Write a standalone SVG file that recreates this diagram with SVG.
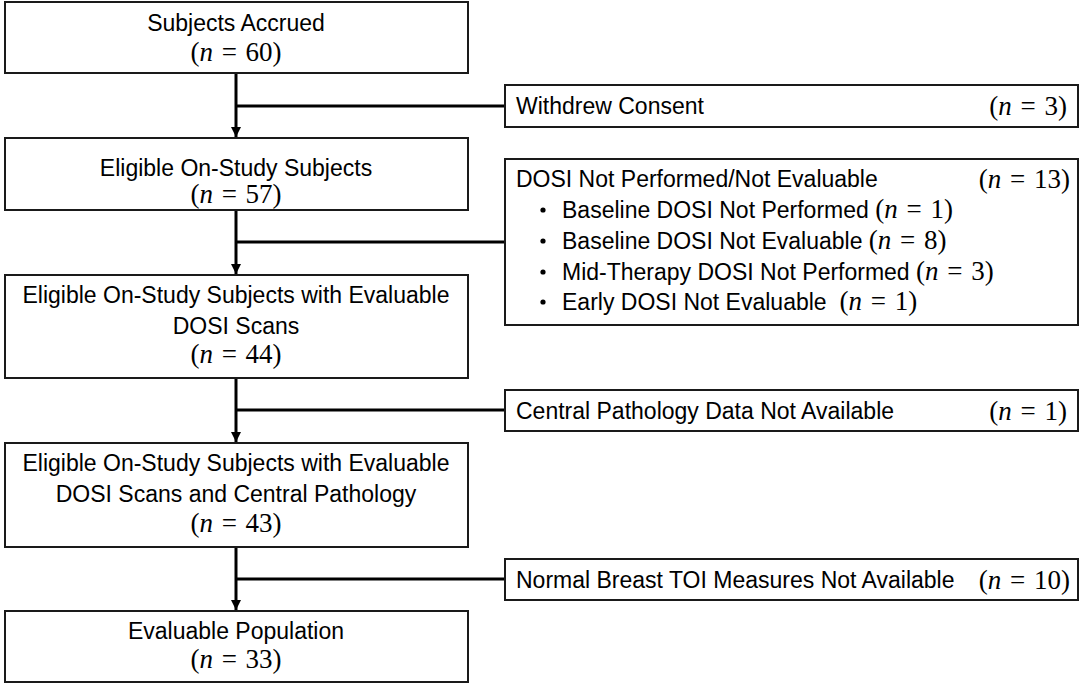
<svg xmlns="http://www.w3.org/2000/svg" width="1084" height="685" viewBox="0 0 1084 685">
<defs>
<style>
.box{fill:#fff;stroke:#1a1a1a;stroke-width:2}
.t{font-family:"Liberation Sans",Arial,sans-serif;font-size:23px;fill:#000}
.c{text-anchor:middle}
.m{font-family:"Liberation Serif","Times New Roman",serif;font-size:27px;word-spacing:2px}
.e{text-anchor:end}
.i{font-style:italic}
.ln{stroke:#000;stroke-width:3;fill:none}
</style>
<marker id="ah" markerWidth="10" markerHeight="10" refX="10" refY="5" orient="auto" markerUnits="userSpaceOnUse">
<path d="M0,0 L10,5 L0,10 Z" fill="#000"/>
</marker>
</defs>
<rect width="1084" height="685" fill="#fff"/>
<g id="connectors">
<line class="ln" x1="236" y1="74" x2="236" y2="137" marker-end="url(#ah)"/>
<line class="ln" x1="236" y1="106" x2="505" y2="106"/>
<line class="ln" x1="236" y1="211" x2="236" y2="274" marker-end="url(#ah)"/>
<line class="ln" x1="236" y1="242" x2="505" y2="242"/>
<line class="ln" x1="236" y1="379" x2="236" y2="442" marker-end="url(#ah)"/>
<line class="ln" x1="236" y1="410" x2="505" y2="410"/>
<line class="ln" x1="236" y1="548" x2="236" y2="610" marker-end="url(#ah)"/>
<line class="ln" x1="236" y1="579" x2="505" y2="579"/>
</g>
<g id="n1">
<rect class="box" x="5" y="2" width="463" height="71"/>
<text class="t c" x="236" y="31">Subjects Accrued</text>
<text class="m c" x="236" y="61">(<tspan class="i">n</tspan> = 60)</text>
</g>
<g id="n2">
<rect class="box" x="5" y="138" width="463" height="72"/>
<text class="t c" x="236" y="176">Eligible On-Study Subjects</text>
<text class="m c" x="236" y="203">(<tspan class="i">n</tspan> = 57)</text>
</g>
<g id="n3">
<rect class="box" x="5" y="275" width="463" height="103"/>
<text class="t c" x="236" y="303">Eligible On-Study Subjects with Evaluable</text>
<text class="t c" x="236" y="334">DOSI Scans</text>
<text class="m c" x="236" y="363">(<tspan class="i">n</tspan> = 44)</text>
</g>
<g id="n4">
<rect class="box" x="5" y="443" width="463" height="104"/>
<text class="t c" x="236" y="471">Eligible On-Study Subjects with Evaluable</text>
<text class="t c" x="236" y="502">DOSI Scans and Central Pathology</text>
<text class="m c" x="236" y="532">(<tspan class="i">n</tspan> = 43)</text>
</g>
<g id="n5">
<rect class="box" x="5" y="611" width="463" height="71"/>
<text class="t c" x="236" y="639">Evaluable Population</text>
<text class="m c" x="236" y="668">(<tspan class="i">n</tspan> = 33)</text>
</g>
<g id="x1">
<rect class="box" x="505" y="85" width="573" height="42"/>
<text class="t" x="516" y="114">Withdrew Consent</text>
<text class="m e" x="1067" y="115">(<tspan class="i">n</tspan> = 3)</text>
</g>
<g id="x2">
<rect class="box" x="505" y="159" width="573" height="166"/>
<text class="t" x="516" y="187">DOSI Not Performed/Not Evaluable</text>
<text class="m e" x="1070" y="188">(<tspan class="i">n</tspan> = 13)</text>
<circle cx="543" cy="210" r="2.6" fill="#000"/>
<text class="t" x="562" y="218">Baseline DOSI Not Performed <tspan class="m">(<tspan class="i">n</tspan> = 1)</tspan></text>
<circle cx="543" cy="241" r="2.6" fill="#000"/>
<text class="t" x="562" y="249">Baseline DOSI Not Evaluable <tspan class="m">(<tspan class="i">n</tspan> = 8)</tspan></text>
<circle cx="543" cy="272" r="2.6" fill="#000"/>
<text class="t" x="562" y="280">Mid-Therapy DOSI Not Performed <tspan class="m">(<tspan class="i">n</tspan> = 3)</tspan></text>
<circle cx="543" cy="302" r="2.6" fill="#000"/>
<text class="t" x="562" y="310" xml:space="preserve">Early DOSI Not Evaluable  <tspan class="m">(<tspan class="i">n</tspan> = 1)</tspan></text>
</g>
<g id="x3">
<rect class="box" x="505" y="390" width="573" height="41"/>
<text class="t" x="516" y="419">Central Pathology Data Not Available</text>
<text class="m e" x="1067" y="420">(<tspan class="i">n</tspan> = 1)</text>
</g>
<g id="x4">
<rect class="box" x="505" y="559" width="573" height="41"/>
<text class="t" x="516" y="588">Normal Breast TOI Measures Not Available</text>
<text class="m e" x="1070" y="589">(<tspan class="i">n</tspan> = 10)</text>
</g>
</svg>
